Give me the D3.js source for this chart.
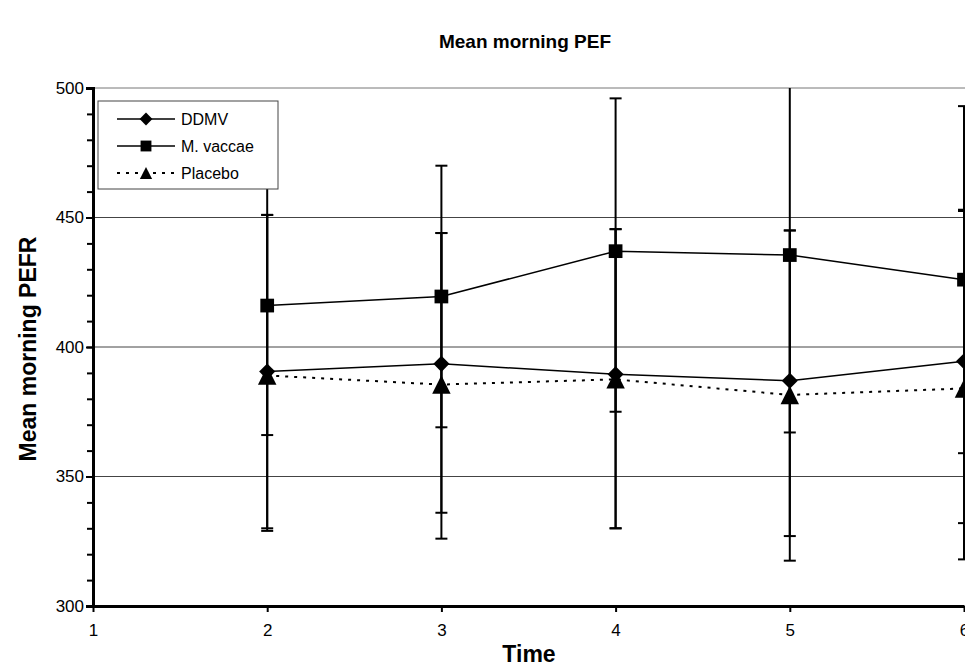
<!DOCTYPE html>
<html>
<head>
<meta charset="utf-8">
<script src="https://cdn.jsdelivr.net/npm/d3@7"></script>
<style>
  body { margin: 0; background: #fff; }
  svg { display: block; font-family: "Liberation Sans", Arial, sans-serif; }
</style>
</head>
<body>
<svg id="chart" width="965" height="669"></svg>
<script>
// values
const times = [2, 3, 4, 5, 6];
const ddmv = [390.5, 393.5, 389.5, 387, 394.5];
const ddmvLow = [329, 336, 330, 327, 332];
const ddmvHigh = [451, 444, 445.5, 445, 453];
const vaccae = [416, 419.5, 437, 435.5, 426];
const vaccaeLow = [366, 369, 375, 367, 359];
const vaccaeHigh = [466, 470, 496, 504, 493];
const placebo = [389, 385.5, 387.5, 381.5, 384];
const placeboLow = [330, 326, 330, 317.5, 318];
const placeboHigh = [451, 444, 445.5, 445, 452.5];
const yMajor = [300, 350, 400, 450, 500];
const xTicks = [1, 2, 3, 4, 5, 6];

const svg = d3.select("#chart");
const x = d3.scaleLinear().domain([1, 6]).range([93, 964]);
const y = d3.scaleLinear().domain([300, 500]).range([606, 88]);

// triangle with equal width and height, centred on its box like Excel's marker
const tri = {
  draw(ctx, size) {
    const w = Math.sqrt(size);
    ctx.moveTo(0, -w / 2);
    ctx.lineTo(w / 2, w / 2);
    ctx.lineTo(-w / 2, w / 2);
    ctx.closePath();
  }
};

const series = [
  { name: "DDMV", vals: ddmv, lo: ddmvLow, hi: ddmvHigh, type: d3.symbolDiamond2, size: 165, legSize: 105, dash: null },
  { name: "M. vaccae", vals: vaccae, lo: vaccaeLow, hi: vaccaeHigh, type: d3.symbolSquare2, size: 240, legSize: 150, dash: null },
  { name: "Placebo", vals: placebo, lo: placeboLow, hi: placeboHigh, type: tri, size: 340, legSize: 150, dash: "3,6" }
];

svg.append("defs").append("clipPath").attr("id", "plot")
  .append("rect").attr("x", 93).attr("y", 88).attr("width", 880).attr("height", 520);

// title
svg.append("text").attr("x", 525).attr("y", 48).attr("text-anchor", "middle")
  .style("font-size", "19px").style("font-weight", "bold").text("Mean morning PEF");

// gridlines
svg.append("g").selectAll("line").data(yMajor.slice(1)).enter().append("line")
  .attr("x1", x(1)).attr("x2", 965)
  .attr("y1", d => y(d)).attr("y2", d => y(d))
  .attr("stroke", d => d === 500 ? "#777" : "#444").attr("stroke-width", 1);

// axes
const yMinor = d3.axisLeft(y).tickValues(d3.range(300, 501, 10)).tickSize(6).tickFormat("");
svg.append("g").attr("transform", `translate(${x(1)},0)`).call(yMinor)
  .call(g => g.select(".domain").remove())
  .call(g => g.selectAll("line").attr("stroke-width", 2));

const yAxis = d3.axisLeft(y).tickValues(yMajor).tickSize(7).tickPadding(2);
svg.append("g").attr("transform", `translate(${x(1)},0)`).call(yAxis)
  .call(g => g.select(".domain").attr("stroke-width", 3))
  .call(g => g.selectAll("line").attr("stroke-width", 2))
  .call(g => g.selectAll("text").style("font-size", "17px").style("font-family", "Liberation Sans, Arial, sans-serif"));

const xAxis = d3.axisBottom(x).tickValues(xTicks).tickFormat(d3.format("d"))
  .tickSize(6).tickPadding(12).tickSizeOuter(0);
svg.append("g").attr("transform", `translate(0,${y(300)})`).call(xAxis)
  .call(g => g.select(".domain").attr("stroke-width", 3))
  .call(g => g.selectAll("line").attr("stroke-width", 2))
  .call(g => g.selectAll("text").style("font-size", "17px").style("font-family", "Liberation Sans, Arial, sans-serif"));

// axis titles
svg.append("text").attr("transform", "translate(36,349) rotate(-90)").attr("text-anchor", "middle")
  .style("font-size", "23px").style("font-weight", "bold").text("Mean morning PEFR");
svg.append("text").attr("x", 529).attr("y", 662).attr("text-anchor", "middle")
  .style("font-size", "23px").style("font-weight", "bold").text("Time");

const plot = svg.append("g").attr("clip-path", "url(#plot)");

const line = d3.line().x(d => x(d[0])).y(d => y(d[1]));

series.forEach(s => {
  plot.append("path").datum(times.map((t, i) => [t, s.vals[i]]))
    .attr("d", line).attr("fill", "none").attr("stroke", "#000")
    .attr("stroke-width", s.dash ? 2 : 1.5)
    .attr("stroke-dasharray", s.dash);
});

// error bars
series.forEach(s => {
  const g = plot.append("g");
  times.forEach((t, i) => {
    g.append("line").attr("x1", x(t)).attr("x2", x(t))
      .attr("y1", y(s.lo[i])).attr("y2", y(s.hi[i]))
      .attr("stroke", "#000").attr("stroke-width", 2);
    [s.lo[i], s.hi[i]].forEach(v => {
      g.append("line").attr("x1", x(t) - 6).attr("x2", x(t) + 6)
        .attr("y1", y(v)).attr("y2", y(v))
        .attr("stroke", "#000").attr("stroke-width", 2);
    });
  });
});

// markers
series.forEach(s => {
  plot.append("g").selectAll("path").data(times.map((t, i) => [t, s.vals[i]])).enter()
    .append("path")
    .attr("transform", d => `translate(${x(d[0])},${y(d[1])})`)
    .attr("d", d3.symbol().type(s.type).size(s.size)).attr("fill", "#000");
});

// legend
const legend = svg.append("g").attr("transform", "translate(98,101)");
legend.append("rect").attr("width", 180).attr("height", 88)
  .attr("fill", "#fff").attr("stroke", "#444").attr("stroke-width", 1);
series.forEach((s, i) => {
  const ly = 18 + i * 27;
  legend.append("line").attr("x1", 19).attr("x2", 77).attr("y1", ly).attr("y2", ly)
    .attr("stroke", "#000").attr("stroke-width", s.dash ? 2 : 1.5)
    .attr("stroke-dasharray", s.dash);
  legend.append("path").attr("transform", `translate(48,${ly})`)
    .attr("d", d3.symbol().type(s.type).size(s.legSize))
    .attr("fill", "#000");
  legend.append("text").attr("x", 83).attr("y", ly + 6)
    .style("font-size", "16px").text(s.name);
});
</script>
</body>
</html>
